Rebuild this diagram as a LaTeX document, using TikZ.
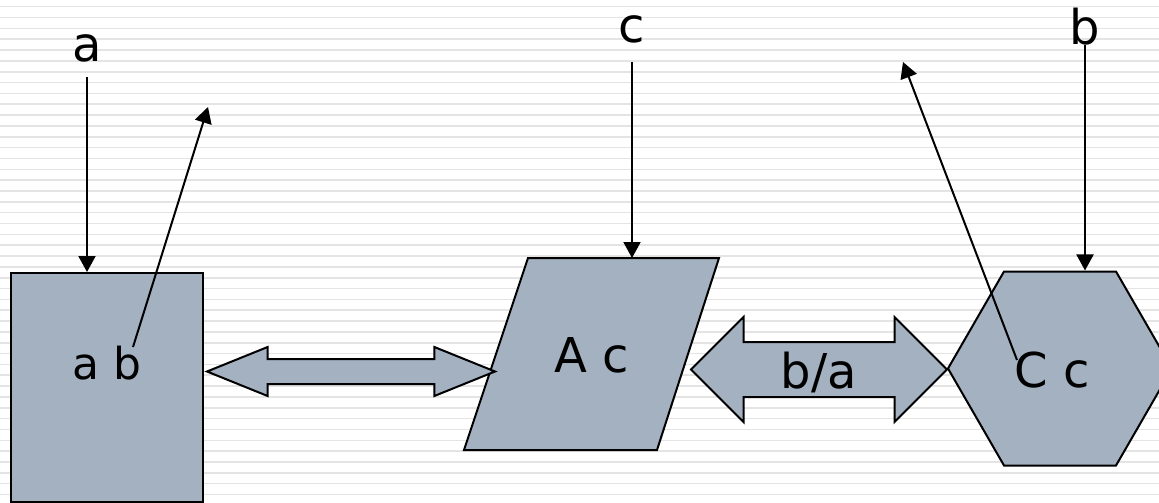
\documentclass[tikz,border=0pt]{standalone}
\usepackage{fontspec}
\setmainfont{DejaVu Sans}
\usepackage{tikz}
\usetikzlibrary{arrows.meta, shapes.geometric, shapes.arrows}
\definecolor{slatefill}{RGB}{163,177,192}
\definecolor{stripegray}{RGB}{228,228,228}

\begin{document}
\begin{tikzpicture}[
        x=1pt, y=-1pt,
        blockshape/.style = {draw=black, fill=slatefill, line width=2pt, inner sep=0pt, font=\fontsize{48}{56}\selectfont},
        lbl/.style = {inner sep=0pt, font=\fontsize{48}{56}\selectfont},
        arrow/.style = {draw=black, line width=2pt, -{Triangle[length=16pt, width=17pt]}},
        stripe/.style = {draw=stripegray, line width=1.6pt}
    ]

        \useasboundingbox (0,0) rectangle (1159,503);
        \clip (0,0) rectangle (1159,503);
        \foreach \k in {0,...,46}
            \draw[stripe] (0,{6.7+10.84*\k}) -- (1159,{6.7+10.84*\k});

        \node (boxab) [blockshape, minimum width=192pt, minimum height=229pt] at (107,387.5) {};
        \node (txtab) [lbl, font=\fontsize{44}{52}\selectfont] at (107,363) {a b};

        % parallelogram
        \draw [blockshape] (464,450) -- (528,258) coordinate (paratop) -- (719,258) -- (657,450) -- cycle;
        \node (txtac) [lbl] at (592,355) {A c};

        \node (hexc) [blockshape, regular polygon, regular polygon sides=6, minimum size=224pt] at (1060,368.5) {};
        \node (txtcc) [lbl] at (1052,370) {C c};

        \node (dblab) [blockshape, double arrow, double arrow head extend=12pt, double arrow tip angle=44, minimum height=288pt, text height=11.5pt, text depth=11.5pt] at (351,371.5) {};
        \node (dblba) [blockshape, double arrow, double arrow head extend=25pt, minimum height=256pt, text height=45pt, text depth=8pt] at (819,369.5) {b/a};

        \node (lbla) [lbl, anchor=base] at (87,62) {a};
        \node (lblc) [lbl, anchor=base] at (632,43) {c};
        \node (lblb) [lbl, anchor=base] at (1085,45) {b};

        \coordinate (fromab) at (133,347);
        \coordinate (toab) at (208,107);
        \coordinate (fromcc) at (1017,360);
        \coordinate (tocc) at (903,62);

        \draw [arrow] ([yshift=-15pt]lbla.base) -- (lbla.base |- boxab.north);
        \draw [arrow] ([yshift=-19pt]lblc.base) -- (lblc.base |- paratop);
        \draw [arrow] (lblb.base) -- (lblb.base |- hexc.north);
        \draw [arrow] (fromab) -- (toab);
        \draw [arrow] (fromcc) -- (tocc);

    \end{tikzpicture}
\end{document}
